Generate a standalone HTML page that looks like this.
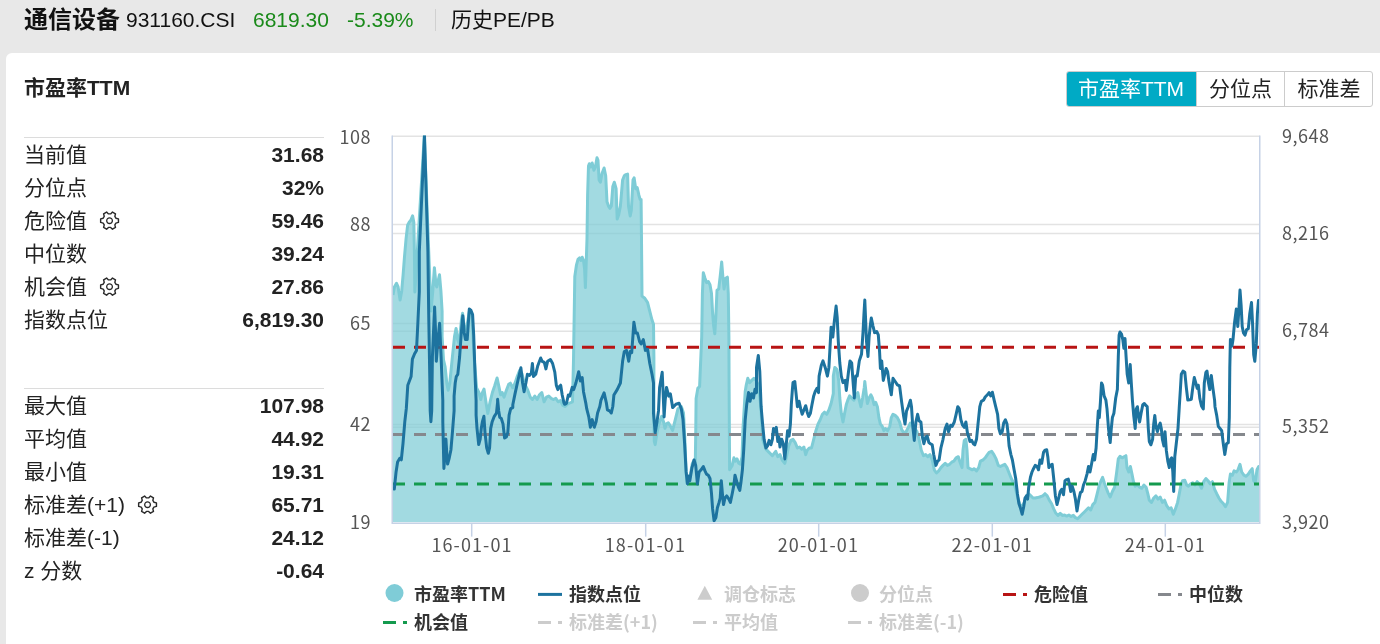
<!DOCTYPE html>
<html lang="zh-CN">
<head>
<meta charset="utf-8">
<title>通信设备 历史PE/PB</title>
<style>
html,body{margin:0;padding:0;}
body{width:1380px;height:644px;overflow:hidden;background:#e8e8e8;position:relative;
  font-family:"Liberation Sans","Noto Sans CJK SC",sans-serif;color:#222;}
.abs{position:absolute;white-space:nowrap;}
#hdr span{position:absolute;white-space:nowrap;top:0;line-height:40px;height:40px;}
#card{position:absolute;left:6px;top:53px;width:1400px;height:620px;background:#fff;border-radius:6px;}
.row{position:absolute;left:24px;width:300px;height:33px;line-height:33px;font-size:21px;color:#222;}
.row b{position:absolute;right:0;top:0;font-weight:bold;font-family:"Liberation Sans",sans-serif;}
.row svg{position:absolute;}
.hr{position:absolute;left:24px;width:300px;height:1px;background:#dcdcdc;}
#tabs{position:absolute;left:1066px;top:71px;height:36px;width:307px;box-sizing:border-box;border:1px solid #ccc;border-radius:3px;background:#fff;overflow:hidden;}
#tabs div{position:absolute;top:-1px;height:36px;line-height:36px;font-size:21px;text-align:center;color:#222;}
.ax{font-family:"Noto Sans CJK SC","Liberation Sans",sans-serif;font-size:18px;fill:#555;letter-spacing:0.5px;}
.lg{font-family:"Noto Sans CJK SC","Liberation Sans",sans-serif;font-size:18px;font-weight:bold;fill:#333;}
.lgo{fill:#ccc;}
</style>
</head>
<body>
<div id="hdr">
  <span style="left:24px;font-size:24px;font-weight:bold;color:#111;">通信设备</span>
  <span style="left:126px;font-size:21px;color:#111;">931160.CSI</span>
  <span style="left:253px;font-size:21px;color:#1a8a1a;">6819.30</span>
  <span style="left:347px;font-size:21px;color:#1a8a1a;">-5.39%</span>
  <span style="left:435px;top:9px;width:1px;height:22px;background:#d0d0d0;"></span>
  <span style="left:451px;font-size:21px;color:#111;">历史PE/PB</span>
</div>
<div id="card"></div>
<div class="abs" style="left:24px;top:72px;font-size:21px;font-weight:bold;line-height:32px;color:#222;">市盈率TTM</div>

<div id="tabs">
  <div style="left:-1px;width:130px;background:#00aac5;color:#fff;">市盈率TTM</div>
  <div style="left:129px;width:88px;border-left:1px solid #ccc;box-sizing:border-box;">分位点</div>
  <div style="left:217px;width:89px;border-left:1px solid #ccc;box-sizing:border-box;">标准差</div>
</div>

<div class="hr" style="top:137px;"></div>
<div class="row" style="top:138px;">当前值<b>31.68</b></div>
<div class="row" style="top:171px;">分位点<b>32%</b></div>
<div class="row" style="top:204px;">危险值<svg style="left:74.5px;top:6px;" width="22" height="22" viewBox="-10.35 -10.45 21.6 21.6"><path d="M6.25 -2.40 L8.74 -1.70 L8.74 1.70 L6.25 2.40 L5.21 4.22 L5.84 6.72 L2.90 8.42 L1.05 6.62 L-1.05 6.62 L-2.90 8.42 L-5.84 6.72 L-5.21 4.22 L-6.25 2.40 L-8.74 1.70 L-8.74 -1.70 L-6.25 -2.40 L-5.21 -4.22 L-5.84 -6.72 L-2.90 -8.42 L-1.05 -6.62 L1.05 -6.62 L2.90 -8.42 L5.84 -6.72 L5.21 -4.22Z" fill="none" stroke="#2a2a2a" stroke-width="1.4" stroke-linejoin="round"/><circle cx="0" cy="0" r="2.8" fill="none" stroke="#2a2a2a" stroke-width="1.3"/></svg><b>59.46</b></div>
<div class="row" style="top:237px;">中位数<b>39.24</b></div>
<div class="row" style="top:270px;">机会值<svg style="left:74.5px;top:6px;" width="22" height="22" viewBox="-10.35 -10.45 21.6 21.6"><path d="M6.25 -2.40 L8.74 -1.70 L8.74 1.70 L6.25 2.40 L5.21 4.22 L5.84 6.72 L2.90 8.42 L1.05 6.62 L-1.05 6.62 L-2.90 8.42 L-5.84 6.72 L-5.21 4.22 L-6.25 2.40 L-8.74 1.70 L-8.74 -1.70 L-6.25 -2.40 L-5.21 -4.22 L-5.84 -6.72 L-2.90 -8.42 L-1.05 -6.62 L1.05 -6.62 L2.90 -8.42 L5.84 -6.72 L5.21 -4.22Z" fill="none" stroke="#2a2a2a" stroke-width="1.4" stroke-linejoin="round"/><circle cx="0" cy="0" r="2.8" fill="none" stroke="#2a2a2a" stroke-width="1.3"/></svg><b>27.86</b></div>
<div class="row" style="top:303px;">指数点位<b>6,819.30</b></div>
<div class="hr" style="top:388px;"></div>
<div class="row" style="top:389px;">最大值<b>107.98</b></div>
<div class="row" style="top:422px;">平均值<b>44.92</b></div>
<div class="row" style="top:455px;">最小值<b>19.31</b></div>
<div class="row" style="top:488px;">标准差(+1)<svg style="left:112.5px;top:6px;" width="22" height="22" viewBox="-10.35 -10.45 21.6 21.6"><path d="M6.25 -2.40 L8.74 -1.70 L8.74 1.70 L6.25 2.40 L5.21 4.22 L5.84 6.72 L2.90 8.42 L1.05 6.62 L-1.05 6.62 L-2.90 8.42 L-5.84 6.72 L-5.21 4.22 L-6.25 2.40 L-8.74 1.70 L-8.74 -1.70 L-6.25 -2.40 L-5.21 -4.22 L-5.84 -6.72 L-2.90 -8.42 L-1.05 -6.62 L1.05 -6.62 L2.90 -8.42 L5.84 -6.72 L5.21 -4.22Z" fill="none" stroke="#2a2a2a" stroke-width="1.4" stroke-linejoin="round"/><circle cx="0" cy="0" r="2.8" fill="none" stroke="#2a2a2a" stroke-width="1.3"/></svg><b>65.71</b></div>
<div class="row" style="top:521px;">标准差(-1)<b>24.12</b></div>
<div class="row" style="top:554px;">z 分数<b>-0.64</b></div>

<svg id="chart" class="abs" style="left:0;top:0;" width="1380" height="644" viewBox="0 0 1380 644">
<!--CHART-->
<g stroke="#e3e3e3" stroke-width="1.5" fill="none">
<path d="M392.25 136.3 H1259.75"/>
<path d="M392.25 224.6 H1259.75"/>
<path d="M392.25 323.6 H1259.75"/>
<path d="M392.25 424.4 H1259.75"/>
<path d="M392.25 233.4 H1259.75"/>
<path d="M392.25 331.2 H1259.75"/>
<path d="M392.25 427.2 H1259.75"/>
</g>
<defs><clipPath id="cp"><rect x="393" y="135.5" width="866" height="386.7"/></clipPath></defs>
<g clip-path="url(#cp)">
<path d="M393 295 L394.4 286.9 L396.5 283.3 L398.1 286.9 L400.1 300 L401.7 290.9 L403.1 274.8 L404.5 256.6 L406.1 238.4 L407.6 225.3 L409.2 222.3 L410.8 220.3 L412.6 215.8 L413.8 222.3 L414.4 250.6 L414.8 290.9 L414.9 292 L424.3 135.5 L431 311 L432.8 290.9 L434.4 267.7 L436 284.9 L436.8 286.9 L439.5 274.8 L440.9 290.9 L442.1 311.1 L442.1 313.3 L442.1 336.6 L443.5 359.9 L445.1 366.9 L446.8 383.2 L448.2 390.2 L449.8 383.2 L452.1 359.9 L454.5 336.6 L456.1 328.4 L457.5 338.9 L459.1 343.6 L461.4 320.3 L462.6 313.3 L464.5 329.6 L466.8 327.3 L469.6 309.8 L471.9 315.6 L474.3 359.9 L476.6 387.8 L478.9 392.5 L480.8 399.5 L482.4 392.5 L484 389 L485.9 401.8 L487.8 413.4 L490.1 401.8 L492.4 392.5 L494.8 385.5 L497.1 378 L498.7 385.5 L500.6 394.8 L502.2 392.5 L504.1 397.1 L506.4 390.2 L508.7 384.3 L510.4 383.2 L512.7 387.8 L515 383.2 L517.3 376.2 L519.7 370.4 L522 373.9 L524.3 383.2 L527.8 390.2 L530.2 397.1 L532.5 399.5 L534.8 396 L537.1 399.5 L539.5 394.8 L541.8 392.5 L544.1 401.8 L546.5 397.1 L548.8 396 L551.1 398.3 L553.4 399.5 L555.8 398.3 L558.1 401.8 L560.4 400.6 L562.8 405.3 L565.1 406.5 L567.4 404.1 L569.8 403 L572.5 401.8 L573.5 359.9 L574.8 276.5 L576.5 264.8 L578 259.3 L579.6 257.8 L580.9 260.4 L582.2 257.2 L583.5 260.4 L584.6 269.1 L585.4 287.6 L587 238.7 L587.6 195.2 L588.5 165.9 L589.3 163.7 L590.7 167 L592.2 163 L593.9 170.2 L595.4 167 L597 157.8 L598 160.4 L599.1 180 L600.4 182.2 L602 173.5 L604.1 168 L605.7 175.7 L607 201.7 L608.5 206.1 L610 208.3 L611.3 206.1 L612.8 186.5 L614.3 182.2 L616.1 188.7 L617.2 219.1 L618.7 214.8 L620.4 206.1 L622.6 180 L624.3 175.7 L625.9 174.6 L627.6 174.1 L628.5 206.1 L630.2 215.9 L631.3 210.4 L633 180 L634.1 177.8 L635.7 188.7 L637.2 187.6 L638.9 195.2 L640.2 199.6 L641.1 199.6 L641.5 238.7 L642 296.1 L644.8 298.3 L647.6 302.6 L649.8 311.3 L652 320 L653.5 324.3 L653.9 357 L653.9 421.7 L654.3 441.3 L655.2 444.6 L657 432.6 L659.6 421.7 L661.7 416.3 L663.5 421.7 L665 428.3 L666.5 423.9 L668.3 422.8 L670.4 426.1 L672.6 430.4 L674.8 421.7 L678 408.7 L681.3 406.5 L683.5 413 L684.7 435.9 L686.2 473.2 L687.1 483.4 L688.8 480.6 L690.3 475 L692.2 463.9 L694 460.1 L695.3 462 L695.7 435.9 L696.1 398.6 L697.8 388.4 L699.6 386.5 L701.7 337 L702.4 293.5 L703.3 272.8 L705 278.3 L706.5 282.6 L708.3 281.5 L710 284.8 L711.5 293.5 L712.6 313 L713.7 326.1 L714.8 333.7 L715.9 315.2 L717 290.2 L718.7 289.1 L720.2 276.1 L721.7 262 L723 278.3 L724.1 289.1 L725.7 278.3 L727.4 277.2 L728.3 293.5 L728.9 337 L729.1 384.8 L729.6 469.8 L732.2 465.4 L733.9 457.8 L735.4 461.1 L737 458.9 L738.7 463.3 L740.4 464.3 L742 456.7 L743 428.5 L745.2 391.5 L746.3 384.8 L747.8 378.3 L749.6 382.6 L751.7 380.4 L753.9 378.3 L756.1 380.4 L758.3 384.8 L760.9 406.7 L762.6 439.3 L765.9 449.1 L769.1 452.4 L772.4 455.7 L775.7 451.3 L777.8 456.7 L780 454.6 L782.2 460 L784.8 463.3 L786.5 456.7 L788.7 445.9 L790.9 440.4 L793 439.3 L795.2 442.6 L797.4 448 L799.6 447 L801.7 449.1 L803.9 447 L805.7 454.6 L807.2 450.2 L809.3 448 L811.5 448 L813.7 439.3 L815.9 430.7 L818 424.1 L820.2 419.8 L822.4 414.3 L824.6 412.2 L826.7 414.3 L828.9 410 L831.1 403.5 L833.3 393.7 L833.3 376.1 L834.8 367.4 L837 369.6 L838.7 380.4 L839.8 398 L841.3 413.3 L843 422 L844.6 413.3 L846.3 404.6 L847.8 400.2 L849.6 395.9 L851.7 398 L853.9 400.2 L856.1 395.9 L857.8 392.6 L859.3 400.2 L860.9 406.7 L862.6 398 L864.3 387.2 L864.8 381.5 L865.9 391.5 L867.4 403.5 L869.1 398 L870.9 394.8 L872.4 398 L874.1 404.6 L875.7 402.4 L877.4 406.7 L878.9 417.6 L880.4 424.1 L882.2 426.3 L883.9 430.7 L885.4 428.5 L887.6 430.7 L889.8 426.3 L891.3 417.6 L893 414.3 L895.2 415.4 L897.4 417.6 L899.6 422 L901.7 429.6 L903.9 432.8 L906.1 431.7 L908.3 427.4 L910.4 423 L912.6 427.4 L914.8 428.5 L917 431.7 L919.1 439.3 L921.3 450.2 L923.5 455.7 L925.7 454.6 L927.8 456.7 L930 454.6 L932.2 460 L934.3 469.8 L936.5 473 L938.7 470.9 L940.9 467.6 L943 465.4 L945.2 463.3 L947.4 465.4 L949.6 464.3 L951.7 462.2 L953.9 461.1 L956.1 457.8 L958.3 456.7 L960.4 463.3 L962 467.6 L963 450.2 L964.3 440.4 L965.9 439.3 L967 450.2 L968 467.6 L970 468.7 L972.2 469.8 L974.3 468.7 L976.5 470.9 L978.7 467.6 L980.4 461.1 L983 460 L985.2 457.8 L987.4 454.6 L989.1 452.4 L991.7 451.3 L993.9 454.6 L996.1 458.9 L998.3 465.4 L1000.4 466.5 L1002.6 465.4 L1004.8 464.3 L1007 467.6 L1009.1 473 L1011.3 478.5 L1013.5 482.8 L1015.7 489.3 L1017.8 498 L1020 504.6 L1022.2 506.7 L1024.3 502.4 L1026.5 495.9 L1028.7 493.7 L1030.9 495.9 L1033 498 L1035.2 498 L1037.4 497.6 L1039.6 497 L1042.8 495.9 L1045 493.7 L1047.2 495.9 L1049.3 500.2 L1051.5 503.5 L1053.7 508.9 L1055.9 513.3 L1058 515.4 L1060.2 513.3 L1062.4 515.4 L1064.6 515 L1066.7 516.1 L1068.9 515 L1071.1 516.5 L1073.3 515.4 L1075.4 517.6 L1077.6 518.7 L1079.8 516.5 L1082 514.3 L1084.1 512.2 L1086.3 510 L1088.5 507.8 L1090.7 510 L1092.8 504.6 L1095 502.4 L1097.2 493.7 L1099.3 485 L1101.1 480.7 L1102.6 477.4 L1104.3 482.8 L1105.9 487.2 L1108 492.6 L1110.2 497 L1112.4 491.5 L1114.6 487.2 L1116.7 472 L1118.3 458.9 L1120 456.3 L1122.2 457.8 L1124.3 456.7 L1125.9 455.7 L1127 467.6 L1128.7 472 L1130.4 466.5 L1132 474.1 L1133.5 481.7 L1135.2 486.1 L1137.4 485 L1139.6 487.2 L1141.7 488.3 L1143.9 485 L1146.1 487.2 L1147.8 493.7 L1149.3 500.2 L1151.5 502.4 L1153.7 498 L1155.9 495.9 L1158 499.1 L1160.2 497 L1162.4 502.4 L1164.6 500.2 L1166.7 505.7 L1168.9 508.9 L1171.1 507.8 L1173.3 514.3 L1175.4 508.9 L1177.6 502.4 L1179.3 493.7 L1180.9 485 L1182.6 480.7 L1184.8 480.2 L1186.7 485 L1188.5 486.1 L1190.7 483.9 L1192.8 482.8 L1195 485 L1197.2 481.7 L1199.3 483.9 L1201.5 488.3 L1203.7 481.7 L1205.9 478.5 L1208 480.7 L1210.2 483.9 L1212.4 481.7 L1214.6 489.3 L1216.7 493.7 L1218.9 498 L1221.1 501.3 L1223.3 503.5 L1225.4 506.7 L1227.6 502.4 L1229.1 482.8 L1230.4 474.1 L1232.4 475.2 L1234.1 470.9 L1236.3 472 L1238 469.8 L1240 464.3 L1241.7 472 L1243.9 475.2 L1246.1 476.3 L1248.3 474.1 L1250.4 470.9 L1252.2 468.7 L1253.7 480.7 L1255.2 482.8 L1257 469.8 L1258.7 466.5 L1259 466.5 L1259 522.2 L393 522.2 Z" fill="#7eccd6" fill-opacity="0.72" stroke="none"/>
<path d="M393 295 L394.4 286.9 L396.5 283.3 L398.1 286.9 L400.1 300 L401.7 290.9 L403.1 274.8 L404.5 256.6 L406.1 238.4 L407.6 225.3 L409.2 222.3 L410.8 220.3 L412.6 215.8 L413.8 222.3 L414.4 250.6 L414.8 290.9 L414.9 292 L424.3 135.5 L431 311 L432.8 290.9 L434.4 267.7 L436 284.9 L436.8 286.9 L439.5 274.8 L440.9 290.9 L442.1 311.1 L442.1 313.3 L442.1 336.6 L443.5 359.9 L445.1 366.9 L446.8 383.2 L448.2 390.2 L449.8 383.2 L452.1 359.9 L454.5 336.6 L456.1 328.4 L457.5 338.9 L459.1 343.6 L461.4 320.3 L462.6 313.3 L464.5 329.6 L466.8 327.3 L469.6 309.8 L471.9 315.6 L474.3 359.9 L476.6 387.8 L478.9 392.5 L480.8 399.5 L482.4 392.5 L484 389 L485.9 401.8 L487.8 413.4 L490.1 401.8 L492.4 392.5 L494.8 385.5 L497.1 378 L498.7 385.5 L500.6 394.8 L502.2 392.5 L504.1 397.1 L506.4 390.2 L508.7 384.3 L510.4 383.2 L512.7 387.8 L515 383.2 L517.3 376.2 L519.7 370.4 L522 373.9 L524.3 383.2 L527.8 390.2 L530.2 397.1 L532.5 399.5 L534.8 396 L537.1 399.5 L539.5 394.8 L541.8 392.5 L544.1 401.8 L546.5 397.1 L548.8 396 L551.1 398.3 L553.4 399.5 L555.8 398.3 L558.1 401.8 L560.4 400.6 L562.8 405.3 L565.1 406.5 L567.4 404.1 L569.8 403 L572.5 401.8 L573.5 359.9 L574.8 276.5 L576.5 264.8 L578 259.3 L579.6 257.8 L580.9 260.4 L582.2 257.2 L583.5 260.4 L584.6 269.1 L585.4 287.6 L587 238.7 L587.6 195.2 L588.5 165.9 L589.3 163.7 L590.7 167 L592.2 163 L593.9 170.2 L595.4 167 L597 157.8 L598 160.4 L599.1 180 L600.4 182.2 L602 173.5 L604.1 168 L605.7 175.7 L607 201.7 L608.5 206.1 L610 208.3 L611.3 206.1 L612.8 186.5 L614.3 182.2 L616.1 188.7 L617.2 219.1 L618.7 214.8 L620.4 206.1 L622.6 180 L624.3 175.7 L625.9 174.6 L627.6 174.1 L628.5 206.1 L630.2 215.9 L631.3 210.4 L633 180 L634.1 177.8 L635.7 188.7 L637.2 187.6 L638.9 195.2 L640.2 199.6 L641.1 199.6 L641.5 238.7 L642 296.1 L644.8 298.3 L647.6 302.6 L649.8 311.3 L652 320 L653.5 324.3 L653.9 357 L653.9 421.7 L654.3 441.3 L655.2 444.6 L657 432.6 L659.6 421.7 L661.7 416.3 L663.5 421.7 L665 428.3 L666.5 423.9 L668.3 422.8 L670.4 426.1 L672.6 430.4 L674.8 421.7 L678 408.7 L681.3 406.5 L683.5 413 L684.7 435.9 L686.2 473.2 L687.1 483.4 L688.8 480.6 L690.3 475 L692.2 463.9 L694 460.1 L695.3 462 L695.7 435.9 L696.1 398.6 L697.8 388.4 L699.6 386.5 L701.7 337 L702.4 293.5 L703.3 272.8 L705 278.3 L706.5 282.6 L708.3 281.5 L710 284.8 L711.5 293.5 L712.6 313 L713.7 326.1 L714.8 333.7 L715.9 315.2 L717 290.2 L718.7 289.1 L720.2 276.1 L721.7 262 L723 278.3 L724.1 289.1 L725.7 278.3 L727.4 277.2 L728.3 293.5 L728.9 337 L729.1 384.8 L729.6 469.8 L732.2 465.4 L733.9 457.8 L735.4 461.1 L737 458.9 L738.7 463.3 L740.4 464.3 L742 456.7 L743 428.5 L745.2 391.5 L746.3 384.8 L747.8 378.3 L749.6 382.6 L751.7 380.4 L753.9 378.3 L756.1 380.4 L758.3 384.8 L760.9 406.7 L762.6 439.3 L765.9 449.1 L769.1 452.4 L772.4 455.7 L775.7 451.3 L777.8 456.7 L780 454.6 L782.2 460 L784.8 463.3 L786.5 456.7 L788.7 445.9 L790.9 440.4 L793 439.3 L795.2 442.6 L797.4 448 L799.6 447 L801.7 449.1 L803.9 447 L805.7 454.6 L807.2 450.2 L809.3 448 L811.5 448 L813.7 439.3 L815.9 430.7 L818 424.1 L820.2 419.8 L822.4 414.3 L824.6 412.2 L826.7 414.3 L828.9 410 L831.1 403.5 L833.3 393.7 L833.3 376.1 L834.8 367.4 L837 369.6 L838.7 380.4 L839.8 398 L841.3 413.3 L843 422 L844.6 413.3 L846.3 404.6 L847.8 400.2 L849.6 395.9 L851.7 398 L853.9 400.2 L856.1 395.9 L857.8 392.6 L859.3 400.2 L860.9 406.7 L862.6 398 L864.3 387.2 L864.8 381.5 L865.9 391.5 L867.4 403.5 L869.1 398 L870.9 394.8 L872.4 398 L874.1 404.6 L875.7 402.4 L877.4 406.7 L878.9 417.6 L880.4 424.1 L882.2 426.3 L883.9 430.7 L885.4 428.5 L887.6 430.7 L889.8 426.3 L891.3 417.6 L893 414.3 L895.2 415.4 L897.4 417.6 L899.6 422 L901.7 429.6 L903.9 432.8 L906.1 431.7 L908.3 427.4 L910.4 423 L912.6 427.4 L914.8 428.5 L917 431.7 L919.1 439.3 L921.3 450.2 L923.5 455.7 L925.7 454.6 L927.8 456.7 L930 454.6 L932.2 460 L934.3 469.8 L936.5 473 L938.7 470.9 L940.9 467.6 L943 465.4 L945.2 463.3 L947.4 465.4 L949.6 464.3 L951.7 462.2 L953.9 461.1 L956.1 457.8 L958.3 456.7 L960.4 463.3 L962 467.6 L963 450.2 L964.3 440.4 L965.9 439.3 L967 450.2 L968 467.6 L970 468.7 L972.2 469.8 L974.3 468.7 L976.5 470.9 L978.7 467.6 L980.4 461.1 L983 460 L985.2 457.8 L987.4 454.6 L989.1 452.4 L991.7 451.3 L993.9 454.6 L996.1 458.9 L998.3 465.4 L1000.4 466.5 L1002.6 465.4 L1004.8 464.3 L1007 467.6 L1009.1 473 L1011.3 478.5 L1013.5 482.8 L1015.7 489.3 L1017.8 498 L1020 504.6 L1022.2 506.7 L1024.3 502.4 L1026.5 495.9 L1028.7 493.7 L1030.9 495.9 L1033 498 L1035.2 498 L1037.4 497.6 L1039.6 497 L1042.8 495.9 L1045 493.7 L1047.2 495.9 L1049.3 500.2 L1051.5 503.5 L1053.7 508.9 L1055.9 513.3 L1058 515.4 L1060.2 513.3 L1062.4 515.4 L1064.6 515 L1066.7 516.1 L1068.9 515 L1071.1 516.5 L1073.3 515.4 L1075.4 517.6 L1077.6 518.7 L1079.8 516.5 L1082 514.3 L1084.1 512.2 L1086.3 510 L1088.5 507.8 L1090.7 510 L1092.8 504.6 L1095 502.4 L1097.2 493.7 L1099.3 485 L1101.1 480.7 L1102.6 477.4 L1104.3 482.8 L1105.9 487.2 L1108 492.6 L1110.2 497 L1112.4 491.5 L1114.6 487.2 L1116.7 472 L1118.3 458.9 L1120 456.3 L1122.2 457.8 L1124.3 456.7 L1125.9 455.7 L1127 467.6 L1128.7 472 L1130.4 466.5 L1132 474.1 L1133.5 481.7 L1135.2 486.1 L1137.4 485 L1139.6 487.2 L1141.7 488.3 L1143.9 485 L1146.1 487.2 L1147.8 493.7 L1149.3 500.2 L1151.5 502.4 L1153.7 498 L1155.9 495.9 L1158 499.1 L1160.2 497 L1162.4 502.4 L1164.6 500.2 L1166.7 505.7 L1168.9 508.9 L1171.1 507.8 L1173.3 514.3 L1175.4 508.9 L1177.6 502.4 L1179.3 493.7 L1180.9 485 L1182.6 480.7 L1184.8 480.2 L1186.7 485 L1188.5 486.1 L1190.7 483.9 L1192.8 482.8 L1195 485 L1197.2 481.7 L1199.3 483.9 L1201.5 488.3 L1203.7 481.7 L1205.9 478.5 L1208 480.7 L1210.2 483.9 L1212.4 481.7 L1214.6 489.3 L1216.7 493.7 L1218.9 498 L1221.1 501.3 L1223.3 503.5 L1225.4 506.7 L1227.6 502.4 L1229.1 482.8 L1230.4 474.1 L1232.4 475.2 L1234.1 470.9 L1236.3 472 L1238 469.8 L1240 464.3 L1241.7 472 L1243.9 475.2 L1246.1 476.3 L1248.3 474.1 L1250.4 470.9 L1252.2 468.7 L1253.7 480.7 L1255.2 482.8 L1257 469.8 L1258.7 466.5 L1259 466.5" fill="none" stroke="#7eccd6" stroke-width="3" stroke-linejoin="round"/>
</g>
<path d="M393 347.2 H1259" stroke="#b81414" stroke-width="3" stroke-dasharray="12 9" fill="none"/>
<path d="M393 434.6 H1259" stroke="#85888d" stroke-width="3" stroke-dasharray="12 9" fill="none"/>
<path d="M393 483.9 H1259" stroke="#149a4e" stroke-width="3" stroke-dasharray="12 9" fill="none"/>
<g clip-path="url(#cp)">
<path d="M394.3 489.1 L396.1 471.7 L397.6 462 L399.8 458.3 L401.3 459.8 L403 443.5 L404.8 421.7 L406.3 408.7 L407.8 385.2 L411.1 376.5 L412.4 359.1 L414.6 353.7 L416.5 350.4 L417.8 324.3 L419.3 291.7 L419.3 251.7 L424.5 135.5 L427.9 251.7 L428.7 313.5 L429.8 378.7 L430.2 410.9 L430.9 421.7 L431.7 410.9 L432.4 357 L434.6 307 L435.7 335.2 L436.3 361.3 L437.8 341.7 L439.6 323.3 L441.1 357 L442.8 400.4 L442.8 421.7 L443.3 443.5 L443.9 468.5 L445 454.3 L445.9 439.1 L447 456.5 L447.6 464.1 L449.1 458.7 L450.9 450 L452.4 432.6 L454.1 410.9 L454.1 396.1 L455.2 383 L456.3 376.5 L457.8 374.3 L459.6 357 L461.3 333 L462.8 315.7 L464.3 333 L465.4 339.6 L467.2 339.6 L469.3 309.1 L470.9 310.2 L472.6 314.6 L473.7 335.2 L475.2 378.7 L476.1 400.4 L476.1 415.2 L477 428.3 L478.7 444.6 L480.2 439.1 L481.3 428.3 L482.4 421.7 L483.9 416.3 L485 432.6 L486.7 447.8 L488.3 453.3 L489.6 447.8 L490.7 428.3 L492.2 421.7 L494.3 416.3 L496.5 413 L497.6 402.2 L497.6 399.3 L498.7 410.9 L499.8 417.4 L501.3 418.5 L503 423.9 L504.6 438 L506.3 437 L507.8 432.6 L509.1 415.2 L510.7 408.7 L512.8 407.6 L512.8 404.8 L515 393.9 L518.3 378.7 L520.9 367.8 L522.6 383 L524.1 391.7 L525.9 383 L527.4 374.3 L529.6 375.4 L531.3 373.3 L532.4 363.5 L533.5 376.5 L535.7 374.3 L537.8 365.7 L540.7 358 L542.2 361.3 L544.3 362.4 L545.9 368.9 L547.6 361.3 L550.4 359.6 L552.6 363.5 L554.8 372.2 L556.3 385.2 L557.8 389.6 L559.6 386.3 L560.7 385.2 L562.2 395 L563.9 402.6 L564.6 404.3 L566.5 403.3 L568.3 395 L569.8 396.1 L572.2 387.4 L573.7 389.6 L575.9 383 L578.7 371.7 L580.4 380.9 L582.2 377.6 L583.5 391.7 L585.7 402.6 L586.7 408.7 L588.9 417.4 L590.4 427.2 L592.2 419.6 L594.3 427.2 L596.1 421.7 L597.6 413 L599.8 406.5 L600.9 400.4 L604.1 392.8 L606.3 402.6 L607.4 409.8 L609.6 410.9 L611.3 413 L612.8 406.5 L613.9 395 L617.2 389.6 L620.4 383 L622.6 361.3 L624.3 351.5 L626.5 350.4 L628.7 361.3 L630.2 351.5 L631.7 352.6 L633 335.2 L633.9 322.2 L635.7 333 L637.4 333 L639.6 341.7 L641.1 343.9 L643.3 339.6 L645.4 350.4 L647.6 349.3 L649.8 363.5 L652 374.3 L653.5 383 L653.5 413 L655.2 432.6 L657 421.7 L658.5 410.9 L659.6 387.4 L662.2 372.2 L663.2 395 L664.1 417 L665.2 400 L666.5 387.5 L667.6 391.7 L668.7 396.1 L670.4 393.9 L672.2 404.8 L672.6 407.6 L675.9 404.3 L679.1 403.3 L681.3 408.7 L683 419.6 L684.6 443.5 L686.1 471.7 L687.4 483.7 L688.9 476.1 L689.8 480.7 L692 467.6 L694.1 460 L695.7 465.4 L697.4 483.9 L699.1 472 L701.1 469.8 L703.3 466.5 L705 470.9 L706.5 474.1 L708.3 475.2 L710 478.5 L711.5 493.7 L712.6 508.9 L714.1 520.9 L715.9 517.6 L717.4 507.8 L719.1 502.4 L720.2 498 L721.3 480.7 L722.4 493.7 L723.5 504.6 L725 498 L726.7 495.9 L728.9 499.1 L730.4 502.4 L732.2 493.7 L733.9 485 L735 475.2 L736.5 480.7 L738.3 487.2 L739.8 490.4 L740.9 482.8 L742.4 469.8 L743.7 450.2 L745.2 419.8 L746.7 404.6 L748.5 392.6 L750 401.3 L751.7 393.7 L753.5 398 L755 389.3 L756.5 392.6 L756.5 380.4 L756.5 367.4 L758.3 355.4 L759.8 371.7 L761.1 406.7 L762.6 424.1 L764.1 439.3 L765.9 448 L767.6 445.9 L769.1 440.4 L770.9 444.8 L772.4 439.3 L773.5 428.5 L775 431.7 L776.3 427.4 L777.8 441.5 L778.9 437.2 L780 447 L781.7 439.3 L783.3 443.7 L784.8 458.9 L786.1 445.9 L787.6 430.7 L789.1 436.1 L790.4 424.1 L791.3 404.6 L792.4 389.3 L793 382.6 L794.8 381.5 L796.3 395.9 L797.4 406.7 L799.1 401.3 L800.7 408.9 L802.2 414.3 L803.9 410 L805.7 405.7 L807.2 412.2 L808.7 416.5 L810.4 413.3 L812 404.6 L813.7 395.9 L815.2 391.5 L817 388.3 L818.5 392.6 L819.1 376.1 L821.3 365.2 L823 360.9 L825.2 367.4 L827.4 376.1 L828.9 367.4 L830 347.8 L831.1 327.2 L832.8 337 L834.3 321.7 L836.1 306.1 L837.2 317.4 L838.3 341.3 L839.8 363 L841.3 376.1 L843 382.6 L845.2 380.4 L846.3 390.4 L848.5 371.7 L850 360.9 L851.7 363 L852.8 378.3 L854.3 398 L855.7 376.1 L857.2 376.1 L859.3 360.9 L861.5 354.3 L863 332.6 L863.9 315.2 L864.8 300 L865.7 321.7 L866.5 341.3 L868 356.5 L869.1 337 L870.2 326.1 L871.3 318 L873 326.1 L874.6 332.6 L876.7 331.5 L878.3 334.8 L879.6 352.2 L880.4 368.5 L881.7 360.9 L883.3 380.4 L884.8 373.9 L886.1 368.5 L887.6 371.7 L889.1 382.6 L891.3 394.8 L893 378.3 L895.2 381.5 L897.4 384.8 L899.6 385.9 L901.7 402.4 L903.5 415.4 L905 424.1 L906.5 411.1 L908.3 406.7 L910.4 400.2 L911.5 406.7 L912.6 424.1 L914.3 440.4 L915.9 422 L917.6 414.3 L919.1 420.9 L920.9 422 L922.4 437.2 L923.9 443.7 L925.7 437.2 L927.2 436.1 L928.9 442.6 L930.4 443.7 L932.2 444.8 L933.7 454.6 L935.9 465.4 L937.6 461.1 L939.1 460 L940.9 448 L943 439.3 L945.2 428.5 L947 424.1 L948.5 431.7 L950.7 425.2 L952.2 426.3 L954.3 422 L956.1 414.3 L957.8 406.7 L959.3 408.9 L960.9 419.8 L962.6 425.2 L964.3 427.4 L965.9 422 L967.4 432.8 L969.1 438.3 L970 441.5 L971.7 440.4 L973.3 443.7 L974.8 444.8 L976.5 439.3 L978 424.1 L979.8 406.7 L981.3 401.3 L983.5 400.2 L985.2 397 L987.4 394.8 L989.1 392.6 L990.7 395.9 L992.4 392.2 L993.9 399.1 L995.7 406.7 L997.6 414.3 L998.9 428.5 L1000.4 433.9 L1002.2 431.7 L1003.7 423 L1005.4 419.8 L1007 424.1 L1008 432.8 L1009.1 445.9 L1010.9 454.6 L1012.4 460 L1014.1 469.8 L1015.7 478.5 L1017.4 493.7 L1018.9 503.5 L1020.7 508.9 L1022.2 514.3 L1023.7 506.7 L1025 498 L1026.5 495.9 L1027.6 499.1 L1028.7 487.2 L1030.4 477.4 L1032 472 L1033.5 468.7 L1035.2 465.4 L1037 466.5 L1038.5 469.8 L1040 460 L1041.7 463.3 L1043.5 452.4 L1045 450.2 L1046.7 449.8 L1047.8 456.7 L1048.9 467.6 L1050.4 465.4 L1052.2 464.3 L1053.7 478.5 L1055.4 495.9 L1057 504.6 L1058.7 498 L1060.2 491.5 L1061.7 489.3 L1063.5 494.8 L1065 480.7 L1066.7 479.6 L1068.3 479.1 L1069.6 485 L1070.7 491.5 L1072.2 486.1 L1073.9 491.5 L1075.4 499.1 L1077 511.1 L1078.7 500.2 L1080.4 492.6 L1082 491.5 L1083.5 485 L1085.2 480.7 L1087 474.1 L1088.5 466.5 L1090 472 L1091.7 463.3 L1093.3 454.6 L1094.6 460 L1096.1 448 L1097.2 428.5 L1098.3 411.1 L1099.3 417.6 L1100.4 402.4 L1101.5 383 L1102.6 385.2 L1104.1 395.9 L1105.9 400.2 L1107 408.9 L1108.5 428.5 L1110.2 442.6 L1111.3 428.5 L1112.4 417.6 L1113.9 413.3 L1115.7 398 L1117.4 389.3 L1117.4 388.5 L1118.3 357 L1119.1 335.2 L1120 332 L1121.5 334.1 L1122.8 339.6 L1123.9 348.3 L1125 338.5 L1126.1 357 L1127.2 374.3 L1128.7 383 L1130.2 364.6 L1131.3 383 L1132.4 400.2 L1133.7 415.4 L1135.2 428.5 L1136.3 408.9 L1137.4 406.7 L1138.5 415.4 L1139.6 422 L1141.1 413.3 L1142.8 404.6 L1144.3 403.5 L1146.1 405.7 L1147.2 406.7 L1148.3 428.5 L1149.3 441.5 L1150.9 444.8 L1152.6 439.3 L1153.7 424.1 L1154.8 415.4 L1155.9 426.3 L1157.4 431.7 L1158.7 426.3 L1160.2 423 L1161.3 428.5 L1162.4 439.3 L1163.9 445.9 L1165 431.7 L1166.3 450.2 L1167.8 461.1 L1169.3 467.6 L1170.7 458.9 L1171.7 457.8 L1172.8 472 L1173.7 491.5 L1174.8 456.7 L1176.5 441.5 L1178 428.5 L1179.3 406.7 L1180.4 389.3 L1181.3 374.3 L1183 371.1 L1184.8 372.2 L1186.3 387.4 L1187.8 400 L1189.6 399.8 L1191.3 399.3 L1192.8 387.4 L1194.3 377.6 L1196.1 384.1 L1197.2 388.5 L1198.3 385.2 L1199.8 398.3 L1201.5 405.9 L1203.3 408.9 L1204.3 383 L1205.9 372.2 L1207 371.1 L1208.5 383 L1209.8 389.6 L1211.3 375.4 L1212.8 387.4 L1214.6 400.4 L1215 406.7 L1216.7 415.4 L1218.3 426.3 L1220 428.5 L1221.7 430.7 L1223.3 443.7 L1224.8 454.6 L1226.5 443.7 L1228.3 442.6 L1229.3 417.6 L1229.8 367.8 L1230.4 339.6 L1232 346.1 L1233 339.6 L1234.6 322.2 L1236.3 309.1 L1237.8 326.5 L1238.9 309.1 L1240 290 L1241.1 304.8 L1242.2 326.5 L1243.5 333 L1245 335.2 L1246.5 329.8 L1248.3 328.7 L1249.8 313.5 L1251.5 302.6 L1252.6 324.3 L1253.7 354.8 L1254.8 361.3 L1256.3 343.9 L1257.4 313.5 L1258.5 300.4" fill="none" stroke="#1d739f" stroke-width="3" stroke-linejoin="round" stroke-linecap="round"/>
</g>
<g stroke="#c6d2e6" stroke-width="1.5" fill="none">
<path d="M392.25 135.6 V523.9"/>
<path d="M1259.75 135.6 V523.9"/>
<path d="M393 523.15 H1259.75"/>
<path d="M471.7 523.15 v13.5"/>
<path d="M645.7 523.15 v13.5"/>
<path d="M818.7 523.15 v13.5"/>
<path d="M992.3 523.15 v13.5"/>
<path d="M1165.3 523.15 v13.5"/>
</g>
<g class="ax" text-anchor="end">
<text x="371" y="143.5">108</text>
<text x="371" y="230.5">88</text>
<text x="371" y="329.5">65</text>
<text x="371" y="430.5">42</text>
<text x="371" y="528.5">19</text>
</g>
<g class="ax" text-anchor="start">
<text x="1282" y="143.3">9,648</text>
<text x="1282" y="239.5">8,216</text>
<text x="1282" y="337">6,784</text>
<text x="1282" y="433">5,352</text>
<text x="1282" y="528.5">3,920</text>
</g>
<g class="ax" text-anchor="middle" style="letter-spacing:1.1px">
<text x="472" y="552">16-01-01</text>
<text x="645.4" y="552">18-01-01</text>
<text x="818.4" y="552">20-01-01</text>
<text x="992.2" y="552">22-01-01</text>
<text x="1165.3" y="552">24-01-01</text>
</g>
<g class="lg">
<circle cx="394.5" cy="593" r="9" fill="#7fccd7"/><text x="414" y="601.4">市盈率TTM</text>
<path d="M538 594.4 h24" stroke="#1d739f" stroke-width="3"/><text x="569" y="601.4">指数点位</text>
<path d="M704.8 585.8 l7.4 13.9 h-14.8 z" fill="#ccc"/><text class="lgo" x="724" y="601.4">调仓标志</text>
<circle cx="860" cy="593" r="9" fill="#ccc"/><text class="lgo" x="879" y="601.4">分位点</text>
<path d="M1003 594.4 h13 m7 0 h4" stroke="#b81414" stroke-width="3" fill="none"/><text x="1034" y="601.4">危险值</text>
<path d="M1158 594.4 h13 m7 0 h4" stroke="#85888d" stroke-width="3" fill="none"/><text x="1189" y="601.4">中位数</text>
<path d="M383 622.5 h13 m7 0 h4" stroke="#149a4e" stroke-width="3" fill="none"/><text x="414" y="629.4">机会值</text>
<path d="M538 622.5 h13 m7 0 h4" stroke="#ccc" stroke-width="3" fill="none"/><text class="lgo" x="569" y="629.4">标准差(+1)</text>
<path d="M693 622.5 h13 m7 0 h4" stroke="#ccc" stroke-width="3" fill="none"/><text class="lgo" x="724" y="629.4">平均值</text>
<path d="M848 622.5 h13 m7 0 h4" stroke="#ccc" stroke-width="3" fill="none"/><text class="lgo" x="879" y="629.4">标准差(-1)</text>
</g>
<!--/CHART-->
</svg>
</body>
</html>
